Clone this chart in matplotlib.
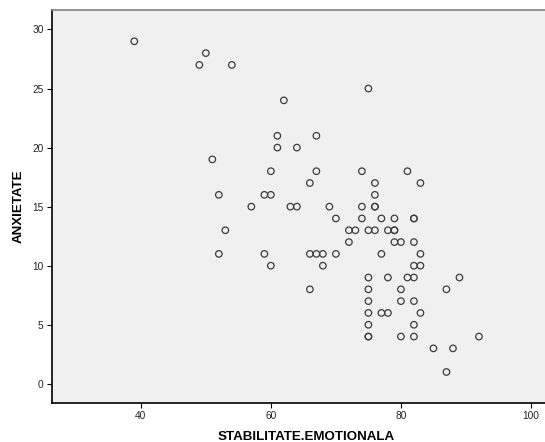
import numpy as np
import matplotlib.pyplot as plt

plt.rcParams['font.family'] = ['Liberation Sans', 'DejaVu Sans']

# STABILITATE.EMOTIONALA vs ANXIETATE, one pair per case
stabilitate = [39, 49, 50, 54, 62, 75, 61, 67, 61, 64, 51,
               60, 67, 74, 81, 66, 76, 83, 52, 59, 60, 76,
               57, 63, 64, 69, 74, 76, 76,
               70, 74, 77, 79, 82, 82,
               53, 72, 73, 75, 76, 78, 79, 79,
               72, 79, 80, 82,
               52, 59, 66, 67, 68, 70, 77, 83,
               60, 68, 82, 83,
               75, 78, 81, 82, 89,
               66, 75, 80, 87,
               75, 80, 82,
               75, 77, 78, 83,
               75, 82,
               75, 75, 80, 82, 92,
               85, 88,
               87]
anxietate = [29, 27, 28, 27, 24, 25, 21, 21, 20, 20, 19,
             18, 18, 18, 18, 17, 17, 17, 16, 16, 16, 16,
             15, 15, 15, 15, 15, 15, 15,
             14, 14, 14, 14, 14, 14,
             13, 13, 13, 13, 13, 13, 13, 13,
             12, 12, 12, 12,
             11, 11, 11, 11, 11, 11, 11, 11,
             10, 10, 10, 10,
             9, 9, 9, 9, 9,
             8, 8, 8, 8,
             7, 7, 7,
             6, 6, 6, 6,
             5, 5,
             4, 4, 4, 4, 4,
             3, 3,
             1]

x_ticks = [40, 60, 80, 100]
y_ticks = [0, 5, 10, 15, 20, 25, 30]

fig = plt.figure(figsize=(5.45, 4.42), dpi=100)
# plot area runs past the right edge of the image, like the SPSS export
ax = fig.add_axes([51.7 / 545, 1 - 402.7 / 442, (560 - 51.7) / 545, (402.7 - 10) / 442])
ax.set_facecolor('#f0f0f0')

ax.scatter(stabilitate, anxietate, s=22, facecolors='none',
           edgecolors='#3c3c3c', linewidths=0.9, zorder=3)

ax.set_xlim(26.3, 40 + (560 - 141) / 6.5)
ax.set_ylim(-1.6, 31.65)
ax.set_xticks(x_ticks)
ax.set_yticks(y_ticks)
ax.tick_params(labelsize=7.3, length=3.8, width=0.8, color='black',
               labelcolor='#222222', pad=2)

for side in ['left', 'bottom']:
    ax.spines[side].set_color('black')
    ax.spines[side].set_linewidth(1.2)
ax.spines['top'].set_color('#808080')
ax.spines['top'].set_linewidth(1.2)
ax.spines['right'].set_visible(False)

ax.set_xlabel('STABILITATE.EMOTIONALA', fontsize=9.6, fontweight='bold', labelpad=7.5)
ax.set_ylabel('ANXIETATE', fontsize=9.6, fontweight='bold', labelpad=5.5)

fig.savefig('out.png', dpi=100)
